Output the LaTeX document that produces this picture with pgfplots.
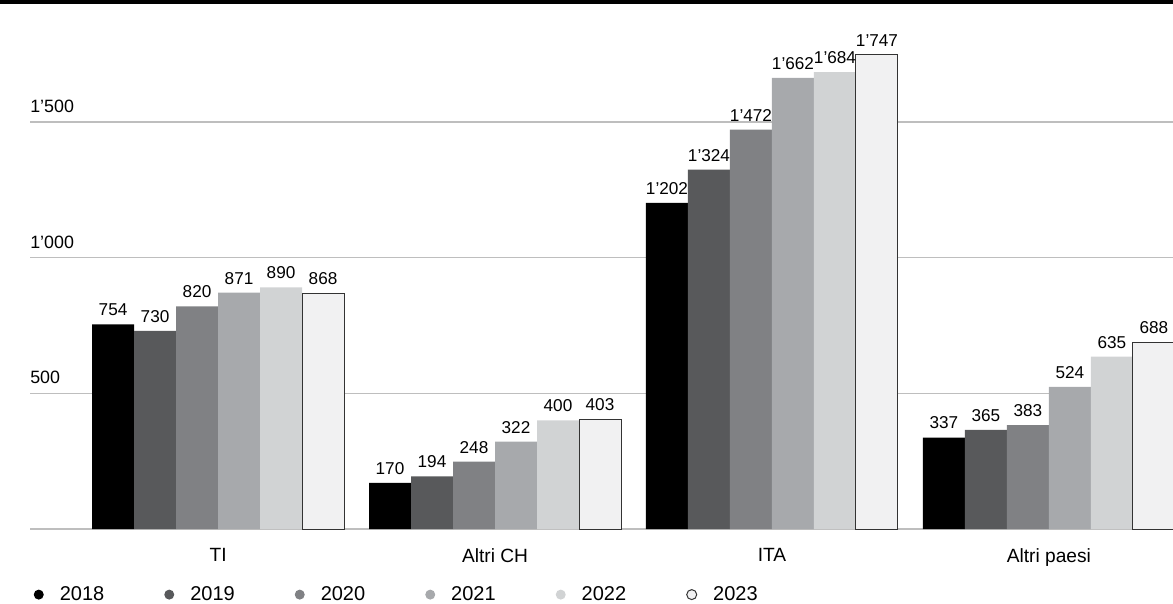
\documentclass[border=0pt]{standalone}
\usepackage{fontspec}
\setmainfont{Liberation Sans}
\usepackage{pgfplots}
\pgfplotsset{compat=1.18}
\definecolor{c18}{RGB}{0,0,0}
\definecolor{c19}{RGB}{88,89,91}
\definecolor{c20}{RGB}{128,129,132}
\definecolor{c21}{RGB}{167,169,172}
\definecolor{c22}{RGB}{209,211,212}
\definecolor{c23}{RGB}{241,241,242}
\definecolor{gridc}{RGB}{190,190,190}
\begin{document}
\begin{tikzpicture}
\path[use as bounding box] (-18pt,-44.4pt) rectangle (685.8pt,317.4pt);
\begin{axis}[
  at={(0,0)}, anchor=south west,
  width=685.8pt, height=316.2pt, scale only axis,
  ymin=0, ymax=1942, xmin=-0.679, xmax=3.448,
  clip=false,
  ybar=0pt, bar width=25.2pt,
  axis line style={draw=none},
  major tick length=0pt,
  ymajorgrids, grid style={gridc, line width=0.8pt},
  ytick={0,500,1000,1500},
  yticklabels={{},500,1’000,1’500},
  yticklabel style={anchor=south west, inner sep=0pt, yshift=5.4pt, font=\fontsize{10.7}{13}\selectfont},
  xtick={0,1,2,3},
  xticklabels={TI,Altri CH,ITA,Altri paesi},
  xticklabel style={yshift=-8pt, font=\fontsize{11.5}{14}\selectfont},
  /pgf/number format/1000 sep={’},
  /pgf/number format/assume math mode=true,
  nodes near coords,
  every node near coord/.append style={font=\fontsize{10.3}{12}\selectfont, yshift=1.5pt},
  legend columns=6,
  legend style={draw=none, fill=none, inner sep=0pt, at={(axis description cs:0.003,-0.1245)}, anchor=west,
    font=\fontsize{12}{14}\selectfont,
    /tikz/every odd column/.append style={column sep=7.6pt},
    /tikz/every even column/.append style={column sep=34pt}},
  legend image code/.code={\path[#1] (0pt,0pt) circle (3pt);},
]
\addplot[fill=c18, draw=none] coordinates {(0,754) (1,170) (2,1202) (3,337)};
\addplot[fill=c19, draw=none] coordinates {(0,730) (1,194) (2,1324) (3,365)};
\addplot[fill=c20, draw=none] coordinates {(0,820) (1,248) (2,1472) (3,383)};
\addplot[fill=c21, draw=none] coordinates {(0,871) (1,322) (2,1662) (3,524)};
\addplot[fill=c22, draw=none] coordinates {(0,890) (1,400) (2,1684) (3,635)};
\addplot[fill=c23, draw=black!80, line width=0.6pt] coordinates {(0,868) (1,403) (2,1747) (3,688)};
\legend{2018,2019,2020,2021,2022,2023}
\draw[line width=2.7pt] ([xshift=-20pt]rel axis cs:0,1) -- ([xshift=5pt]rel axis cs:1,1);
\end{axis}
\end{tikzpicture}
\end{document}
